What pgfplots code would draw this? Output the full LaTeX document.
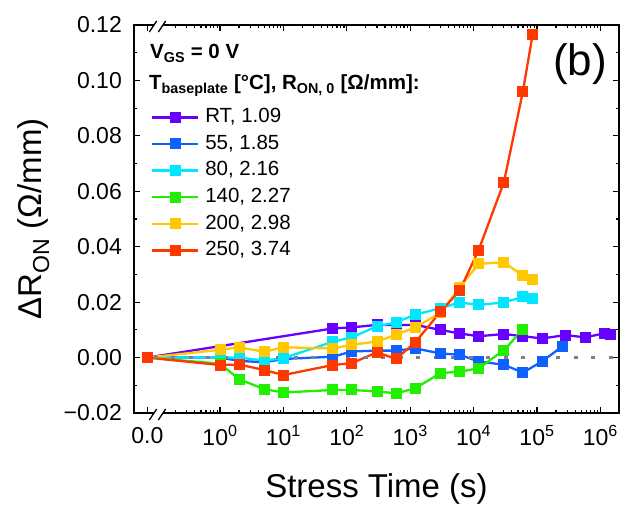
\documentclass[border=0pt]{standalone}
\usepackage{fontspec}
\setmainfont{Liberation Sans}
\usepackage{pgfplots}
\pgfplotsset{compat=1.18}
\definecolor{cRT}{RGB}{102,0,255}
\definecolor{c55}{RGB}{16,96,255}
\definecolor{c80}{RGB}{0,230,255}
\definecolor{c140}{RGB}{34,238,0}
\definecolor{c200}{RGB}{255,200,0}
\definecolor{c250}{RGB}{255,56,0}
\pgfplotsset{ser/.style={color=#1, line width=2.3bp, mark=square*, mark size=5bp, mark options={solid, line width=0pt}}}
\begin{document}
\begin{tikzpicture}
\path[use as bounding box] (-134bp,-93bp) rectangle (496bp,413bp);
\begin{axis}[
  at={(0,0)}, anchor=south west,
  scale only axis, width=485bp, height=388bp,
  xmode=log, xmin=0.04399, xmax=1.965e6,
  ymin=-0.02, ymax=0.12,
  xtick={0.07135,1,10,100,1000,10000,100000,1000000},
  xticklabels={0.0,10\textsuperscript{0},10\textsuperscript{1},10\textsuperscript{2},10\textsuperscript{3},10\textsuperscript{4},10\textsuperscript{5},10\textsuperscript{6}},
  minor xtick={0.2,0.3,0.4,0.5,0.6,0.7,0.8,0.9,2,3,4,5,6,7,8,9,20,30,40,50,60,70,80,90,200,300,400,500,600,700,800,900,2000,3000,4000,5000,6000,7000,8000,9000,20000,30000,40000,50000,60000,70000,80000,90000,200000,300000,400000,500000,600000,700000,800000,900000},
  ytick={-0.02,0,0.02,0.04,0.06,0.08,0.10,0.12},
  yticklabels={−0.02,0.00,0.02,0.04,0.06,0.08,0.10,0.12},
  minor ytick={-0.01,0.01,0.03,0.05,0.07,0.09,0.11},
  tick align=inside,
  major tick length=6bp, minor tick length=3.5bp,
  tick style={black, line width=1.2bp},
  axis line style={line width=1.6bp},
  tick label style={font=\fontsize{23bp}{27bp}\selectfont},
  xticklabel style={anchor=center, yshift=-22.5bp},
  yticklabel style={anchor=east, inner sep=0pt, xshift=-12bp},
  xlabel={Stress Time (s)},
  ylabel={ΔR\textsubscript{ON} (Ω/mm)},
  label style={font=\fontsize{33bp}{38bp}\selectfont},
  xlabel style={at={(axis description cs:0.5,-0.2165)}, anchor=base},
  ylabel style={at={(axis description cs:-0.1907,0.5)}, anchor=base},
  legend style={at={(0.035,0.787)}, anchor=north west, draw=none, fill=none,
    inner sep=0pt, outer sep=0pt, row sep=7.1bp,
    font=\fontsize{20.5bp}{24bp}\selectfont,
    nodes={inner sep=0pt, text height=15bp, text depth=4.5bp},
    /tikz/every odd column/.append style={column sep=6bp}},
  legend cell align=left,
  legend image code/.code={\draw[mark repeat=2, mark phase=2, #1] plot coordinates {(0bp,0bp) (23bp,0bp) (46bp,0bp)};},
]
\addplot[ser=cRT] coordinates {(0.07135,0) (60,0.0105) (120,0.0109) (300,0.0118) (600,0.0117) (1200,0.0118) (3000,0.0100) (6000,0.0087) (12000,0.0077) (30000,0.0085) (60000,0.0077) (120000,0.0069) (280000,0.0081) (580000,0.0073) (1180000,0.0088) (1420000,0.0084)};
\addplot[ser=c55] coordinates {(0.07135,0) (1,0.0) (2,-0.0012) (5,-0.0017) (10,-0.0005) (60,0.0003) (120,0.0022) (300,0.0025) (600,0.0025) (1200,0.0033) (3000,0.0015) (6000,0.0010) (12000,-0.0014) (30000,-0.0026) (60000,-0.0054) (120000,-0.0014) (250000,0.0040)};
\addplot[ser=c80] coordinates {(0.07135,0) (1,0.0) (2,0.0) (5,-0.0011) (10,-0.0002) (60,0.0057) (120,0.0073) (300,0.0113) (600,0.0127) (1200,0.0155) (3000,0.0178) (6000,0.0199) (12000,0.0190) (30000,0.0199) (60000,0.0219) (85000,0.0214)};
\addplot[ser=c140] coordinates {(0.07135,0) (1,-0.0022) (2,-0.0078) (5,-0.0114) (10,-0.0126) (60,-0.0117) (120,-0.0117) (300,-0.0122) (600,-0.0129) (1200,-0.0111) (3000,-0.0056) (6000,-0.0051) (12000,-0.0039) (30000,0.0027) (60000,0.0100)};
\addplot[ser=c200] coordinates {(0.07135,0) (1,0.0028) (2,0.0037) (5,0.0021) (10,0.0037) (60,0.0033) (120,0.0046) (300,0.0058) (600,0.0082) (1200,0.0109) (3000,0.0161) (6000,0.0253) (12000,0.0338) (30000,0.0344) (60000,0.0295) (85000,0.0283)};
\addplot[ser=c250] coordinates {(0.07135,0) (1,-0.0027) (2,-0.0025) (5,-0.0045) (10,-0.0063) (60,-0.0027) (120,-0.0020) (300,0.0019) (600,-0.0005) (1200,0.0055) (3000,0.0165) (6000,0.0241) (12000,0.0388) (30000,0.0632) (60000,0.0961) (85000,0.1164)};
\addplot[forget plot, color={rgb,255:red,128;green,128;blue,128}, line width=2.5bp, dash pattern=on 4bp off 13.5bp] coordinates {(0.09,0) (1.9e6,0)};
\legend{{RT, 1.09},{55, 1.85},{80, 2.16},{140, 2.27},{200, 2.98},{250, 3.74}}
\end{axis}
% axis breaks
\foreach \yy in {0bp,388bp}{
  \fill[white] ([yshift=\yy]19.0bp,-1.5bp) -- ([yshift=\yy]21.0bp,1.5bp) -- ([yshift=\yy]30.0bp,1.5bp) -- ([yshift=\yy]28.0bp,-1.5bp) -- cycle;
  \draw[line width=1.3bp] ([yshift=\yy]15.3bp,-7bp) -- ([yshift=\yy]22.7bp,4bp);
  \draw[line width=1.3bp] ([yshift=\yy]24.3bp,-7bp) -- ([yshift=\yy]31.7bp,4bp);
}
\node[anchor=base west, inner sep=0pt, font=\bfseries\fontsize{20.5bp}{24bp}\selectfont] at (16bp,354bp) {V\textsubscript{GS} = 0 V};
\node[anchor=base west, inner sep=0pt, font=\bfseries\fontsize{20.5bp}{24bp}\selectfont] at (15bp,323bp) {T\textsubscript{baseplate} [°C], R\textsubscript{ON, 0} [Ω/mm]:};
\node[anchor=base west, inner sep=0pt, font=\fontsize{44bp}{50bp}\selectfont] at (419bp,337bp) {(b)};
\end{tikzpicture}
\end{document}
